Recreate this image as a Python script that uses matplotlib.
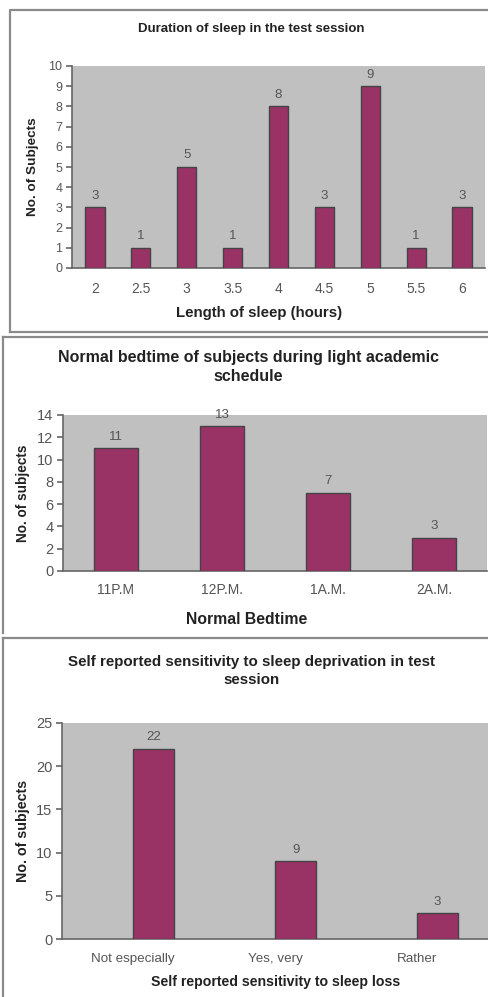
import matplotlib
matplotlib.use("Agg")
import matplotlib.pyplot as plt
from matplotlib.lines import Line2D

plt.rcParams['font.family'] = ['Liberation Sans', 'DejaVu Sans']

# ---- data ----
sleep_hours = ["2", "2.5", "3", "3.5", "4", "4.5", "5", "5.5", "6"]
sleep_counts = [3, 1, 5, 1, 8, 3, 9, 1, 3]

bedtimes = ["11P.M", "12P.M.", "1A.M.", "2A.M."]
bedtime_counts = [11, 13, 7, 3]

sensitivity = ["Not especially", "Yes, very", "Rather"]
sensitivity_counts = [22, 9, 3]

titles = ["Duration of sleep in the test session",
          "Normal bedtime of subjects during light academic\nschedule",
          "Self reported sensitivity to sleep deprivation in test\nsession"]
xlabels = ["Length of sleep (hours)", "Normal Bedtime",
           "Self reported sensitivity to sleep loss"]
ylabels = ["No. of Subjects", "No. of subjects", "No. of subjects"]

W, H = 488, 997
fig = plt.figure(figsize=(W / 100, H / 100), dpi=100)
fig.patch.set_facecolor("white")

BAR = "#993366"
BG = "#C0C0C0"
FRAME = "#8a8a8a"
TXT = "#555555"
DARK = "#222222"
AX = "#666666"


def fx(x):
    return x / W


def fy(y):
    return 1 - y / H


def add_axes(l, r, t, b):
    return fig.add_axes([fx(l), fy(b), fx(r) - fx(l), (b - t) / H])


def frame_line(xs, ys):
    fig.add_artist(Line2D([fx(x) for x in xs], [fy(y) for y in ys],
                          color=FRAME, lw=1.6, transform=fig.transFigure))


# frames
frame_line([10, 10, 500], [332, 10, 10])
frame_line([10, 500], [332, 332])
frame_line([3, 3], [337, 633])
frame_line([3, 500], [337, 337])
frame_line([3, 3], [638, 1000])
frame_line([3, 500], [638, 638])


def style(ax, ymax, ystep, yfs, xfs, xpad):
    ax.set_facecolor(BG)
    ax.set_ylim(0, ymax)
    ax.set_yticks(range(0, ymax + 1, ystep))
    for s in ["top", "right"]:
        ax.spines[s].set_visible(False)
    for s in ["left", "bottom"]:
        ax.spines[s].set_color(AX)
        ax.spines[s].set_linewidth(1.2)
    ax.tick_params(axis="y", length=4, width=1.2, color=AX,
                   labelsize=yfs, labelcolor=TXT, pad=3)
    ax.tick_params(axis="x", length=0, labelsize=xfs, labelcolor=TXT, pad=xpad)


def set_ylab(ax, text, fs, px, left, right):
    ax.set_ylabel(text, fontsize=fs, fontweight="bold", color=DARK)
    ax.yaxis.set_label_coords((px - left) / (right - left), 0.5)


# ---- panel 1 ----
l, r, t, b = 72, 485, 66, 268
ax1 = add_axes(l, r, t, b)
x1 = list(range(len(sleep_hours)))
ax1.bar(x1, sleep_counts, width=0.42, color=BAR, edgecolor="#444444", lw=1.0, zorder=3)
ax1.set_xlim(-0.5, len(sleep_hours) - 0.5)
ax1.set_xticks(x1)
ax1.set_xticklabels(sleep_hours)
style(ax1, 10, 1, 9, 10, 10)
for xi, v in zip(x1, sleep_counts):
    ax1.annotate(str(v), (xi, v), xytext=(0, 4), textcoords="offset points",
                 ha="center", va="bottom", fontsize=9.5, color=TXT)
set_ylab(ax1, ylabels[0], 9.7, 39, l, r)
fig.text(fx(251), fy(29), titles[0], ha="center", va="center",
         fontsize=9.5, fontweight="bold", color=DARK)
fig.text(fx(259), fy(313), xlabels[0], ha="center", va="center",
         fontsize=10.8, fontweight="bold", color=DARK)

# ---- panel 2 ----
l, r, t, b = 63, 487, 415, 571
ax2 = add_axes(l, r, t, b)
x2 = list(range(len(bedtimes)))
ax2.bar(x2, bedtime_counts, width=0.41, color=BAR, edgecolor="#444444", lw=1.0, zorder=3)
ax2.set_xlim(-0.5, len(bedtimes) - 0.5)
ax2.set_xticks(x2)
ax2.set_xticklabels(bedtimes)
style(ax2, 14, 2, 10.5, 10, 9)
for xi, v in zip(x2, bedtime_counts):
    ax2.annotate(str(v), (xi, v), xytext=(0, 4), textcoords="offset points",
                 ha="center", va="bottom", fontsize=9.5, color=TXT)
set_ylab(ax2, ylabels[1], 9.8, 30, l, r)
fig.text(fx(248), fy(367), titles[1], ha="center", va="center",
         fontsize=11.5, fontweight="bold", color=DARK, linespacing=1.3)
fig.text(fx(247), fy(620), xlabels[1], ha="center", va="center",
         fontsize=11.3, fontweight="bold", color=DARK)

# ---- panel 3 ----
l, r, t, b = 62, 488, 723, 939
ax3 = add_axes(l, r, t, b)
x3 = list(range(len(sensitivity)))
off = 0.145
ax3.bar([xi + off for xi in x3], sensitivity_counts, width=0.29, color=BAR,
        edgecolor="#444444", lw=1.0, zorder=3)
ax3.set_xlim(-0.5, len(sensitivity) - 0.5)
ax3.set_xticks(x3)
ax3.set_xticklabels(sensitivity)
style(ax3, 25, 5, 10.5, 9.6, 10)
for xi, v in zip(x3, sensitivity_counts):
    ax3.annotate(str(v), (xi + off, v), xytext=(0, 4), textcoords="offset points",
                 ha="center", va="bottom", fontsize=9.5, color=TXT)
set_ylab(ax3, ylabels[2], 10.3, 30, l, r)
fig.text(fx(252), fy(671), titles[2], ha="center", va="center",
         fontsize=10.9, fontweight="bold", color=DARK, linespacing=1.3)
fig.text(fx(276), fy(982), xlabels[2], ha="center", va="center",
         fontsize=10.2, fontweight="bold", color=DARK)

fig.savefig("out.png", dpi=100)
